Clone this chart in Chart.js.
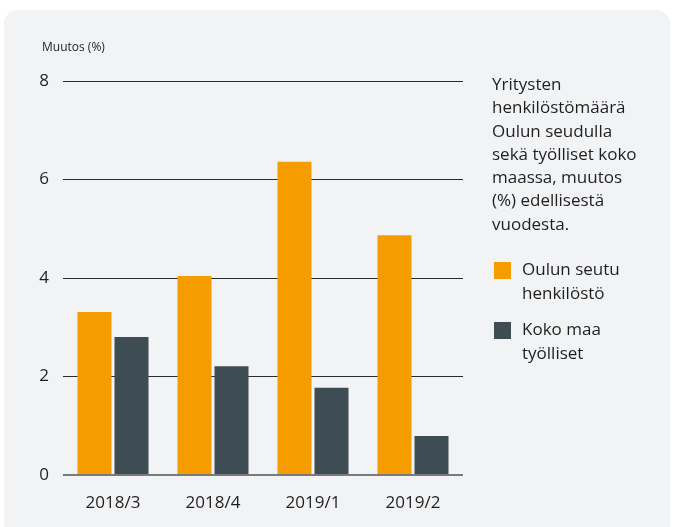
<!DOCTYPE html>
<html>
<head>
<meta charset="utf-8">
<script src="https://cdn.jsdelivr.net/npm/chart.js@4"></script>
<style>
  html, body { margin: 0; padding: 0; background: #fff; }
  body { width: 673px; height: 527px; position: relative; overflow: hidden; font-family: "Open Sans", sans-serif; color: #1f1f1f; }
  .card { position: absolute; left: 4px; top: 10px; width: 666px; height: 540px; background: #f2f3f5; border-radius: 14px; }
  #chart { position: absolute; left: 0; top: 0; }
  .ytitle { position: absolute; left: 42px; top: 38px; font-size: 12px; }
  .side { position: absolute; left: 492px; top: 72px; width: 180px; font-size: 17px; line-height: 23.3px; white-space: nowrap; }
  .item { position: absolute; left: 494px; font-size: 17px; line-height: 24px; }
  .item .sw { position: absolute; left: 0; top: 5px; width: 17px; height: 17px; }
  .item .tx { margin-left: 28px; }
</style>
</head>
<body>
<div class="card"></div>
<canvas id="chart" width="673" height="527"></canvas>
<div class="ytitle">Muutos (%)</div>
<div class="side">Yritysten<br>henkilöstömäärä<br>Oulun seudulla<br>sekä työlliset koko<br>maassa, muutos<br>(%) edellisestä<br>vuodesta.</div>
<div class="item" style="top:257px"><span class="sw" style="background:#f59d00"></span><div class="tx">Oulun seutu<br>henkilöstö</div></div>
<div class="item" style="top:317px"><span class="sw" style="background:#3e4c54"></span><div class="tx">Koko maa<br>työlliset</div></div>
<script>
const categories = ['2018/3', '2018/4', '2019/1', '2019/2']
const oulunSeutu = [3.31, 4.04, 6.36, 4.87]
const kokoMaa = [2.80, 2.21, 1.77, 0.79]
const yTicks = [0, 2, 4, 6, 8]

const ctx = document.getElementById('chart').getContext('2d')

new Chart(ctx, {
  type: 'bar',
  data: {
    labels: categories,
    datasets: [
      {
        label: 'Oulun seutu henkilöstö',
        data: oulunSeutu,
        backgroundColor: '#f59d00',
        barPercentage: 0.919,
        categoryPercentage: 0.74
      },
      {
        label: 'Koko maa työlliset',
        data: kokoMaa,
        backgroundColor: '#3e4c54',
        barPercentage: 0.919,
        categoryPercentage: 0.74
      }
    ]
  },
  options: {
    responsive: false,
    animation: false,
    layout: { padding: { left: 0, top: 81, right: 210, bottom: 12 } },
    plugins: {
      legend: { display: false },
      tooltip: { enabled: false }
    },
    scales: {
      x: {
        grid: { display: false },
        border: { display: false },
        ticks: { color: '#1f1f1f', padding: 10, font: { family: 'Open Sans', size: 17 } },
        afterFit: (scale) => { scale.height = 40 }
      },
      y: {
        min: 0,
        max: 8,
        border: { display: false },
        grid: {
          drawTicks: false,
          color: (c) => c.tick.value === 0 ? '#777b80' : '#2a2a2a',
          lineWidth: (c) => c.tick.value === 0 ? 2 : 1
        },
        afterBuildTicks: (scale) => { scale.ticks = yTicks.map(v => ({ value: v })) },
        ticks: {
          color: '#1f1f1f',
          padding: 14,
          font: { family: 'Open Sans', size: 17 }
        },
        afterFit: (scale) => { scale.width = 63 }
      }
    }
  }
})
</script>
</body>
</html>
